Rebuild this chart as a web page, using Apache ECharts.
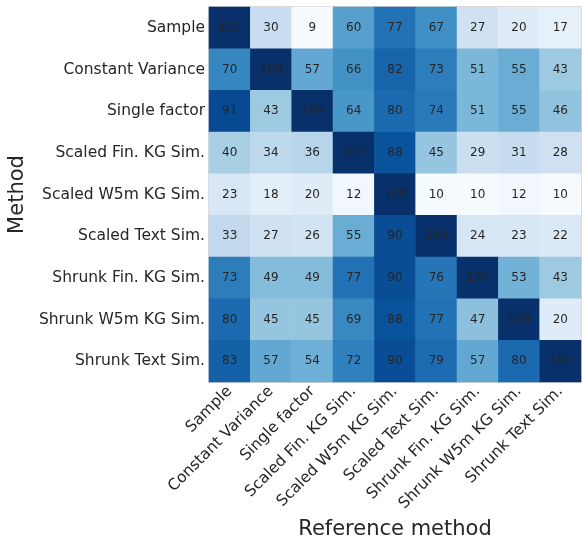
<!DOCTYPE html>
<html>
<head>
<meta charset="utf-8">
<script src="https://cdn.jsdelivr.net/npm/echarts@6/dist/echarts.min.js"></script>
<style>
html,body{margin:0;padding:0;background:#fff;}
#chart{width:582px;height:541px;}
</style>
</head>
<body>
<div id="chart"></div>
<script>
// Reference methods (columns) and compared methods (rows)
const methods = [
  "Sample", "Constant Variance", "Single factor",
  "Scaled Fin. KG Sim.", "Scaled W5m KG Sim.", "Scaled Text Sim.",
  "Shrunk Fin. KG Sim.", "Shrunk W5m KG Sim.", "Shrunk Text Sim."
];

// Overlap scores, one array per row method
const rowSample       = [100, 30, 9, 60, 77, 67, 27, 20, 17];
const rowConstVar     = [70, 100, 57, 66, 82, 73, 51, 55, 43];
const rowSingleFactor = [91, 43, 100, 64, 80, 74, 51, 55, 46];
const rowScaledFinKG  = [40, 34, 36, 100, 88, 45, 29, 31, 28];
const rowScaledW5mKG  = [23, 18, 20, 12, 100, 10, 10, 12, 10];
const rowScaledText   = [33, 27, 26, 55, 90, 100, 24, 23, 22];
const rowShrunkFinKG  = [73, 49, 49, 77, 90, 76, 100, 53, 43];
const rowShrunkW5mKG  = [80, 45, 45, 69, 88, 77, 47, 100, 20];
const rowShrunkText   = [83, 57, 54, 72, 90, 79, 57, 80, 100];

const rows = [rowSample, rowConstVar, rowSingleFactor, rowScaledFinKG,
  rowScaledW5mKG, rowScaledText, rowShrunkFinKG, rowShrunkW5mKG, rowShrunkText];

const cells = [];
rows.forEach((r, i) => r.forEach((v, j) => cells.push([j, i, v])));

const font = "DejaVu Sans";
const textColor = "#262626";

const chart = echarts.init(document.getElementById("chart"), null, {renderer: "canvas"});
chart.setOption({
  backgroundColor: "#ffffff",
  animation: false,
  grid: {left: 209, right: 1, top: 7, bottom: 159, show: true, outerBoundsMode: "none",
         containLabel: false,
         borderColor: "#cccccc", borderWidth: 1.5, backgroundColor: "transparent"},
  xAxis: {
    type: "category", data: methods, position: "bottom",
    name: "Reference method", nameLocation: "middle", nameGap: 129,
    nameTextStyle: {fontFamily: font, fontSize: 21, color: textColor},
    axisLine: {show: false}, axisTick: {show: false}, splitLine: {show: false},
    axisLabel: {rotate: 45, margin: 7, fontFamily: font, fontSize: 15.5, color: textColor, interval: 0}
  },
  yAxis: {
    type: "category", data: methods, inverse: true,
    name: "Method", nameLocation: "middle", nameGap: 177,
    nameTextStyle: {fontFamily: font, fontSize: 21, color: textColor},
    axisLine: {show: false}, axisTick: {show: false}, splitLine: {show: false},
    axisLabel: {margin: 4, fontFamily: font, fontSize: 15.5, color: textColor, interval: 0}
  },
  visualMap: {
    show: false, min: 9, max: 100, dimension: 2,
    inRange: {color: ["#f7fbff", "#deebf7", "#c6dbef", "#9ecae1", "#6baed6",
                      "#4292c6", "#2171b5", "#08519c", "#08306b"]}
  },
  series: [{
    type: "heatmap", data: cells,
    label: {show: true, fontFamily: font, fontSize: 12, color: textColor},
    itemStyle: {borderWidth: 0},
    emphasis: {disabled: true}
  }]
});
</script>
</body>
</html>
